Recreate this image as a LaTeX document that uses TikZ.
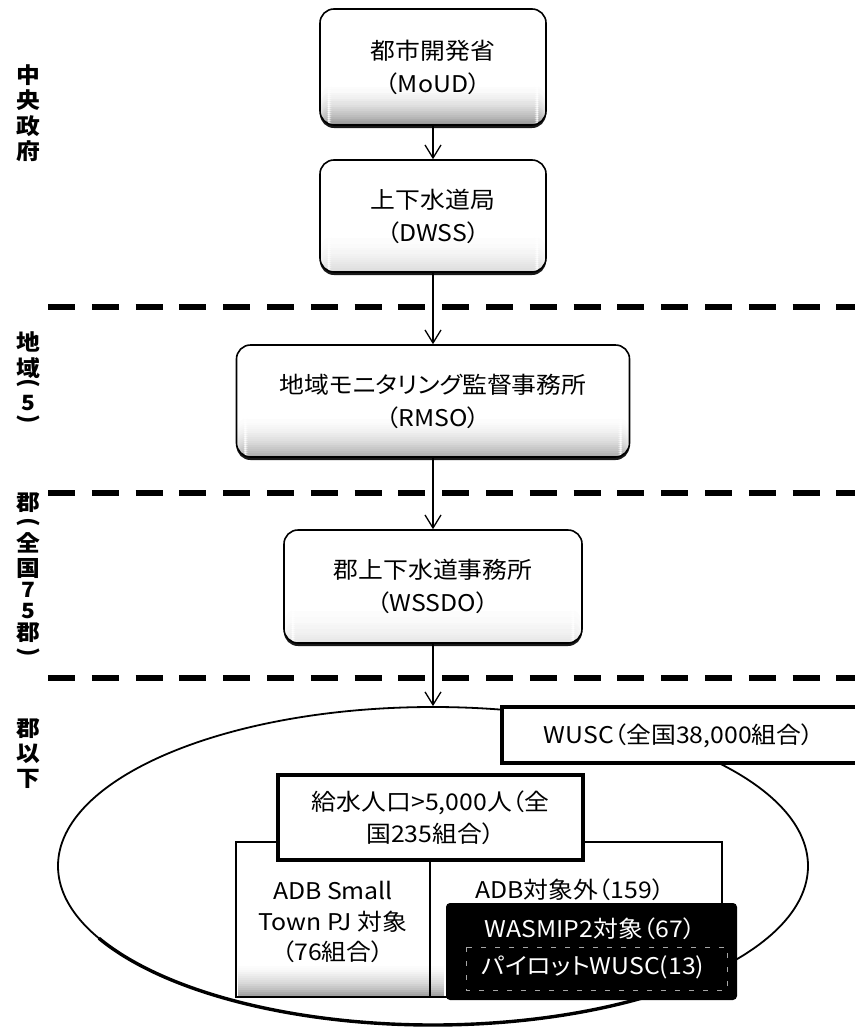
\documentclass[tikz,border=0pt]{standalone}
\usepackage{fontspec}
\setmainfont{Noto Sans CJK JP}[RawFeature=+palt, FakeStretch=1.08]
\usetikzlibrary{arrows.meta,shapes.geometric,shadows}
\begin{document}
\begin{tikzpicture}[x=1pt,y=-1pt,
  txt/.style={font=\fontsize{23}{32}\selectfont, align=center, inner sep=0pt},
  orgbox/.style={draw, line width=1.6pt, rounded corners=14pt, fill=white,
    drop shadow={shadow xshift=0pt, shadow yshift=-3pt, fill=black, opacity=0.9},
    font=\fontsize{23}{33}\selectfont, align=center},
  shadebot/.style={path picture={%
    \foreach \k in {0,...,21}{%
      \pgfmathtruncatemacro\pc{#1*((22-\k)/22)^2}%
      \fill[black!\pc] ([yshift=\k*2pt]path picture bounding box.south west)
        rectangle ([yshift=\k*2pt+2.3pt]path picture bounding box.south east);}}},
  arr/.style={-{Straight Barb[length=13pt,width=16pt,line width=1.3pt]}, line width=1.3pt},
  sep/.style={line width=6.5pt, dash pattern=on 27pt off 16.8pt},
  lab/.style={font=\fontsize{22}{24}\bfseries\selectfont, inner sep=0pt},
  dig/.style={font=\fontsize{21}{23}\bfseries\selectfont, inner sep=0pt},
  thickbox/.style={draw, line width=3.8pt, fill=white},
  thinbox/.style={draw, line width=1.8pt, fill=white}]
\useasboundingbox (0,0) rectangle (854,1028);

% --- separators
\draw[sep] (48,307) -- (880,307);
\draw[sep] (48,493) -- (880,493);
\draw[sep] (48,678) -- (880,678);

% --- top organisation boxes
\node[orgbox, shadebot=40, minimum width=226pt, minimum height=116pt] (moud) at (433,67) {都市開発省\\（MoUD）};
\node[orgbox, shadebot=14, minimum width=226pt, minimum height=112pt] (dwss) at (433,216) {上下水道局\\（DWSS）};
\node[orgbox, shadebot=32, minimum width=393pt, minimum height=112pt] (rmso) at (433,401) {地域モニタリング監督事務所\\（RMSO）};
\node[orgbox, shadebot=10, minimum width=298pt, minimum height=113pt] (wssdo) at (433,586.5) {郡上下水道事務所\\（WSSDO）};

% --- ellipse
\node[draw, ellipse, line width=1.8pt, minimum width=750pt, minimum height=318pt, inner sep=0pt] (ell) at (433,866) {};
\draw[line width=3.4pt] ([shift={(45:375 and 159)}]ell.center) arc[start angle=45, end angle=153, x radius=375, y radius=159];

% --- arrows
\draw[arr] (moud.south) -- (dwss.north);
\draw[arr] (dwss.south) -- (rmso.north);
\draw[arr] (rmso.south) -- (wssdo.north);
\draw[arr] (wssdo.south) -- (ell.north);

% --- WUSC box
\draw[thickbox] (502,707) rectangle (880,763);
\node[txt] (wusc) at (679,736) {WUSC（全国38,000組合）};

% --- population group
\draw[thinbox] (236,842) rectangle (722,997);
\foreach \k in {0,...,17}{%
  \pgfmathtruncatemacro\pc{36*((18-\k)/18)^2}%
  \fill[black!\pc] (237.5,{996-\k*2}) rectangle (444,{996-\k*2-2.3});}
\draw[line width=1.6pt] (430,860) -- (430,997);
\node[thickbox, minimum width=305pt, minimum height=85pt, txt, fill=white] (pop) at (430.5,817.5) {給水人口>5,000人（全\\国235組合）};
\node[txt, font=\fontsize{23}{30.5}\selectfont] (adb) at (333,922) {ADB Small\\Town PJ 対象\\（76組合）};
\node[txt] (nadb) at (570,890) {ADB対象外（159）};

% --- black box
\node[fill=black, rounded corners=4pt, minimum width=291pt, minimum height=97pt, inner sep=0pt] (blk) at (591.5,951.5) {};
\draw[gray!70, line width=0.8pt, dash pattern=on 5pt off 9pt] (466,947) rectangle (727,990);
\node[txt, text=white] (wasmip) at (590,929) {WASMIP2対象（67）};
\node[txt, text=white] (pilot) at (593,967) {パイロットWUSC(13)};

% --- left-side level labels
\node[lab] (c1) at (28,75) {中};
\node[lab] (c2) at (28,100.5) {央};
\node[lab] (c3) at (28,126) {政};
\node[lab] (c4) at (28,151.5) {府};

\node[lab] (r1) at (28,342) {地};
\node[lab] (r2) at (28,368) {域};
\node[lab, rotate=-90] (r3) at (28,383) {(};
\node[dig] (r4) at (28,403) {5};
\node[lab, rotate=-90] (r5) at (28,419) {)};

\node[lab] (d1) at (28,503) {郡};
\node[lab, rotate=-90] (d2) at (28,522) {(};
\node[lab] (d3) at (28,543) {全};
\node[lab] (d4) at (28,569) {国};
\node[dig] (d5) at (28,590) {7};
\node[dig] (d6) at (28,611.5) {5};
\node[lab] (d7) at (28,633) {郡};
\node[lab, rotate=-90] (d8) at (28,652) {)};

\node[lab] (l1) at (28,729) {郡};
\node[lab] (l2) at (28,754) {以};
\node[lab] (l3) at (28,779) {下};
\end{tikzpicture}
\end{document}
